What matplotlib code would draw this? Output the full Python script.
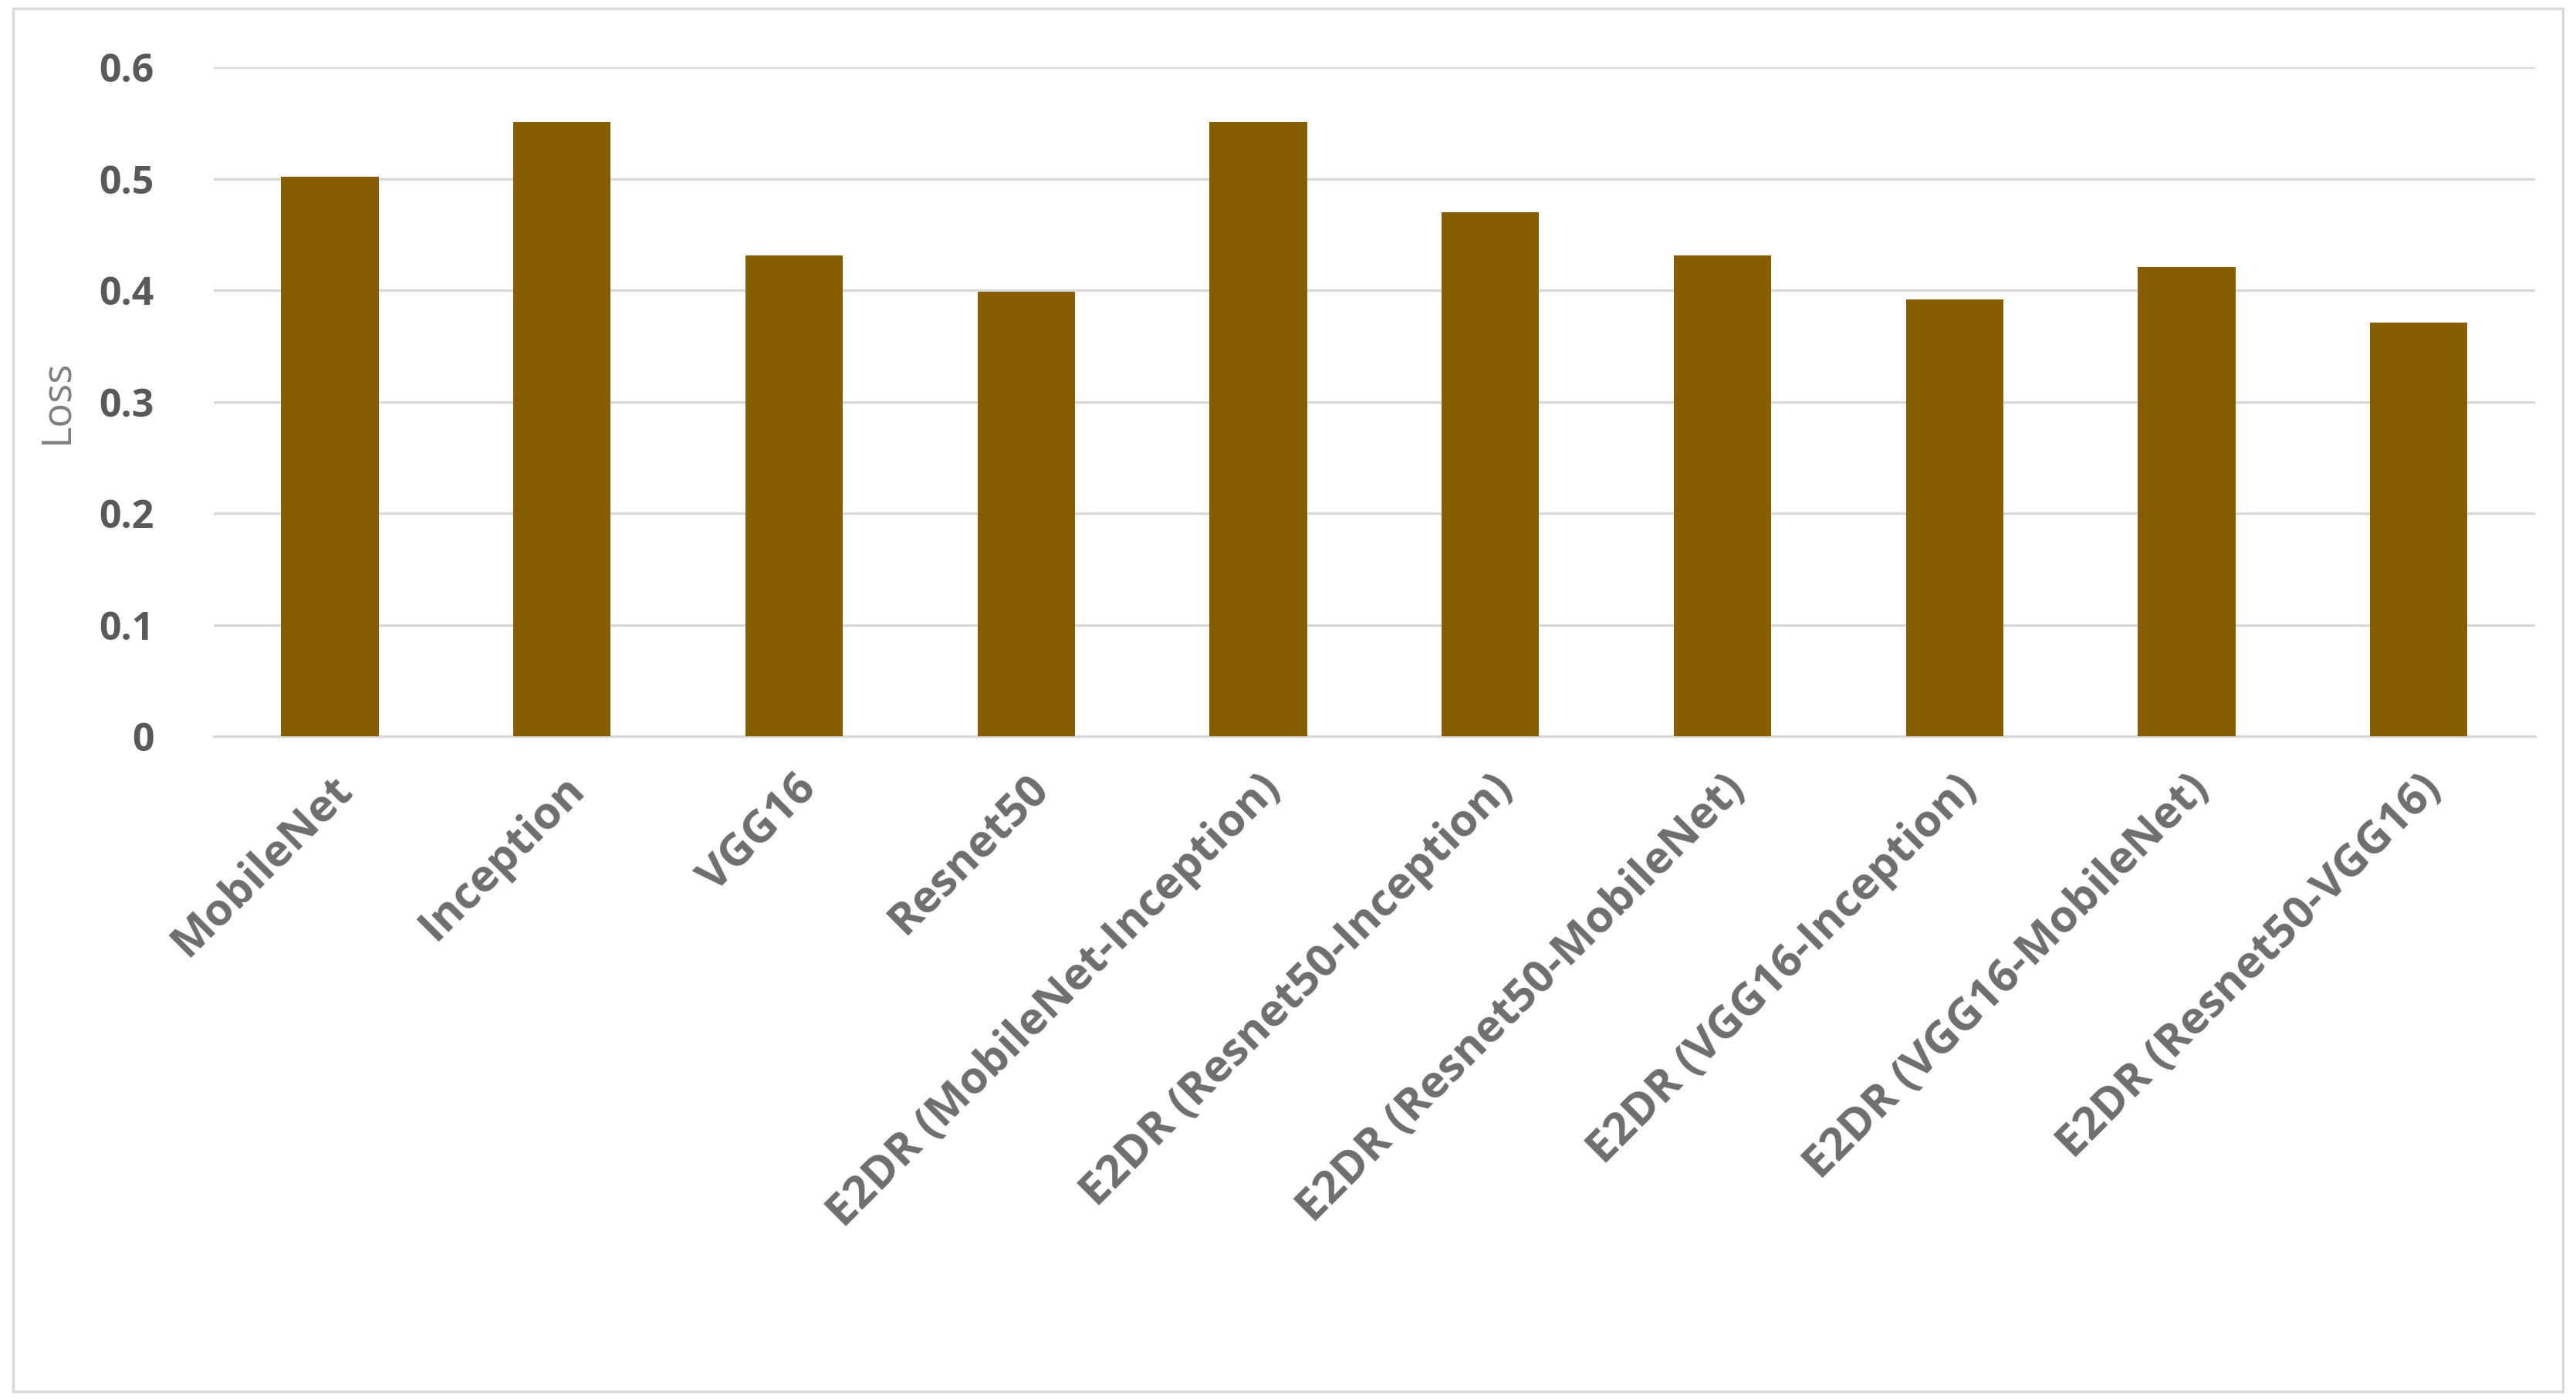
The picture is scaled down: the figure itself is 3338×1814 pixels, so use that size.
import matplotlib
matplotlib.use("Agg")
import matplotlib.pyplot as plt
from matplotlib.patches import Rectangle

categories = ["MobileNet", "Inception", "VGG16", "Resnet50",
              "E2DR (MobileNet-Inception)", "E2DR (Resnet50-Inception)",
              "E2DR (Resnet50-MobileNet)", "E2DR (VGG16-Inception)",
              "E2DR (VGG16-MobileNet)", "E2DR (Resnet50-VGG16)"]
loss = [0.502, 0.551, 0.431, 0.399, 0.551, 0.470, 0.431, 0.392, 0.421, 0.371]
yticks = [0, 0.1, 0.2, 0.3, 0.4, 0.5, 0.6]

plt.rcParams['font.family'] = ['Open Sans', 'DejaVu Sans']
fig = plt.figure(figsize=(16.69, 9.07), dpi=200)
ax = fig.add_axes([0.083, 0.474, 0.901, 0.478])
ax.bar(range(len(categories)), loss, width=0.42, color="#865E00", zorder=3)
ax.set_ylim(0, 0.6)
ax.set_xlim(-0.5, len(categories) - 0.5)
ax.set_yticks(yticks)
ax.set_yticklabels([f"{t:g}" for t in yticks], fontsize=18, fontweight='bold', color="#595959")
ax.set_xticks(range(len(categories)))
ax.set_xticklabels(categories, rotation=45, ha='right', rotation_mode='anchor',
                   fontsize=21, fontweight='bold', color="#6E6E6E")
ax.tick_params(axis='y', length=0, pad=28)
ax.tick_params(axis='x', length=0, pad=14)
ax.grid(axis='y', color="#D9D9D9", linewidth=1.2, zorder=0)
for s in ['top', 'right', 'left']:
    ax.spines[s].set_visible(False)
ax.spines['bottom'].set_color("#D9D9D9")
ax.spines['bottom'].set_linewidth(1.2)
ax.set_ylabel("Loss", fontsize=19, color="#7F7F7F", labelpad=10)
fig.patches.append(Rectangle((0.005, 0.006), 0.99, 0.988, transform=fig.transFigure,
                             fill=False, edgecolor="#D9D9D9", linewidth=1.2))
fig.savefig("out.png", dpi=200)
